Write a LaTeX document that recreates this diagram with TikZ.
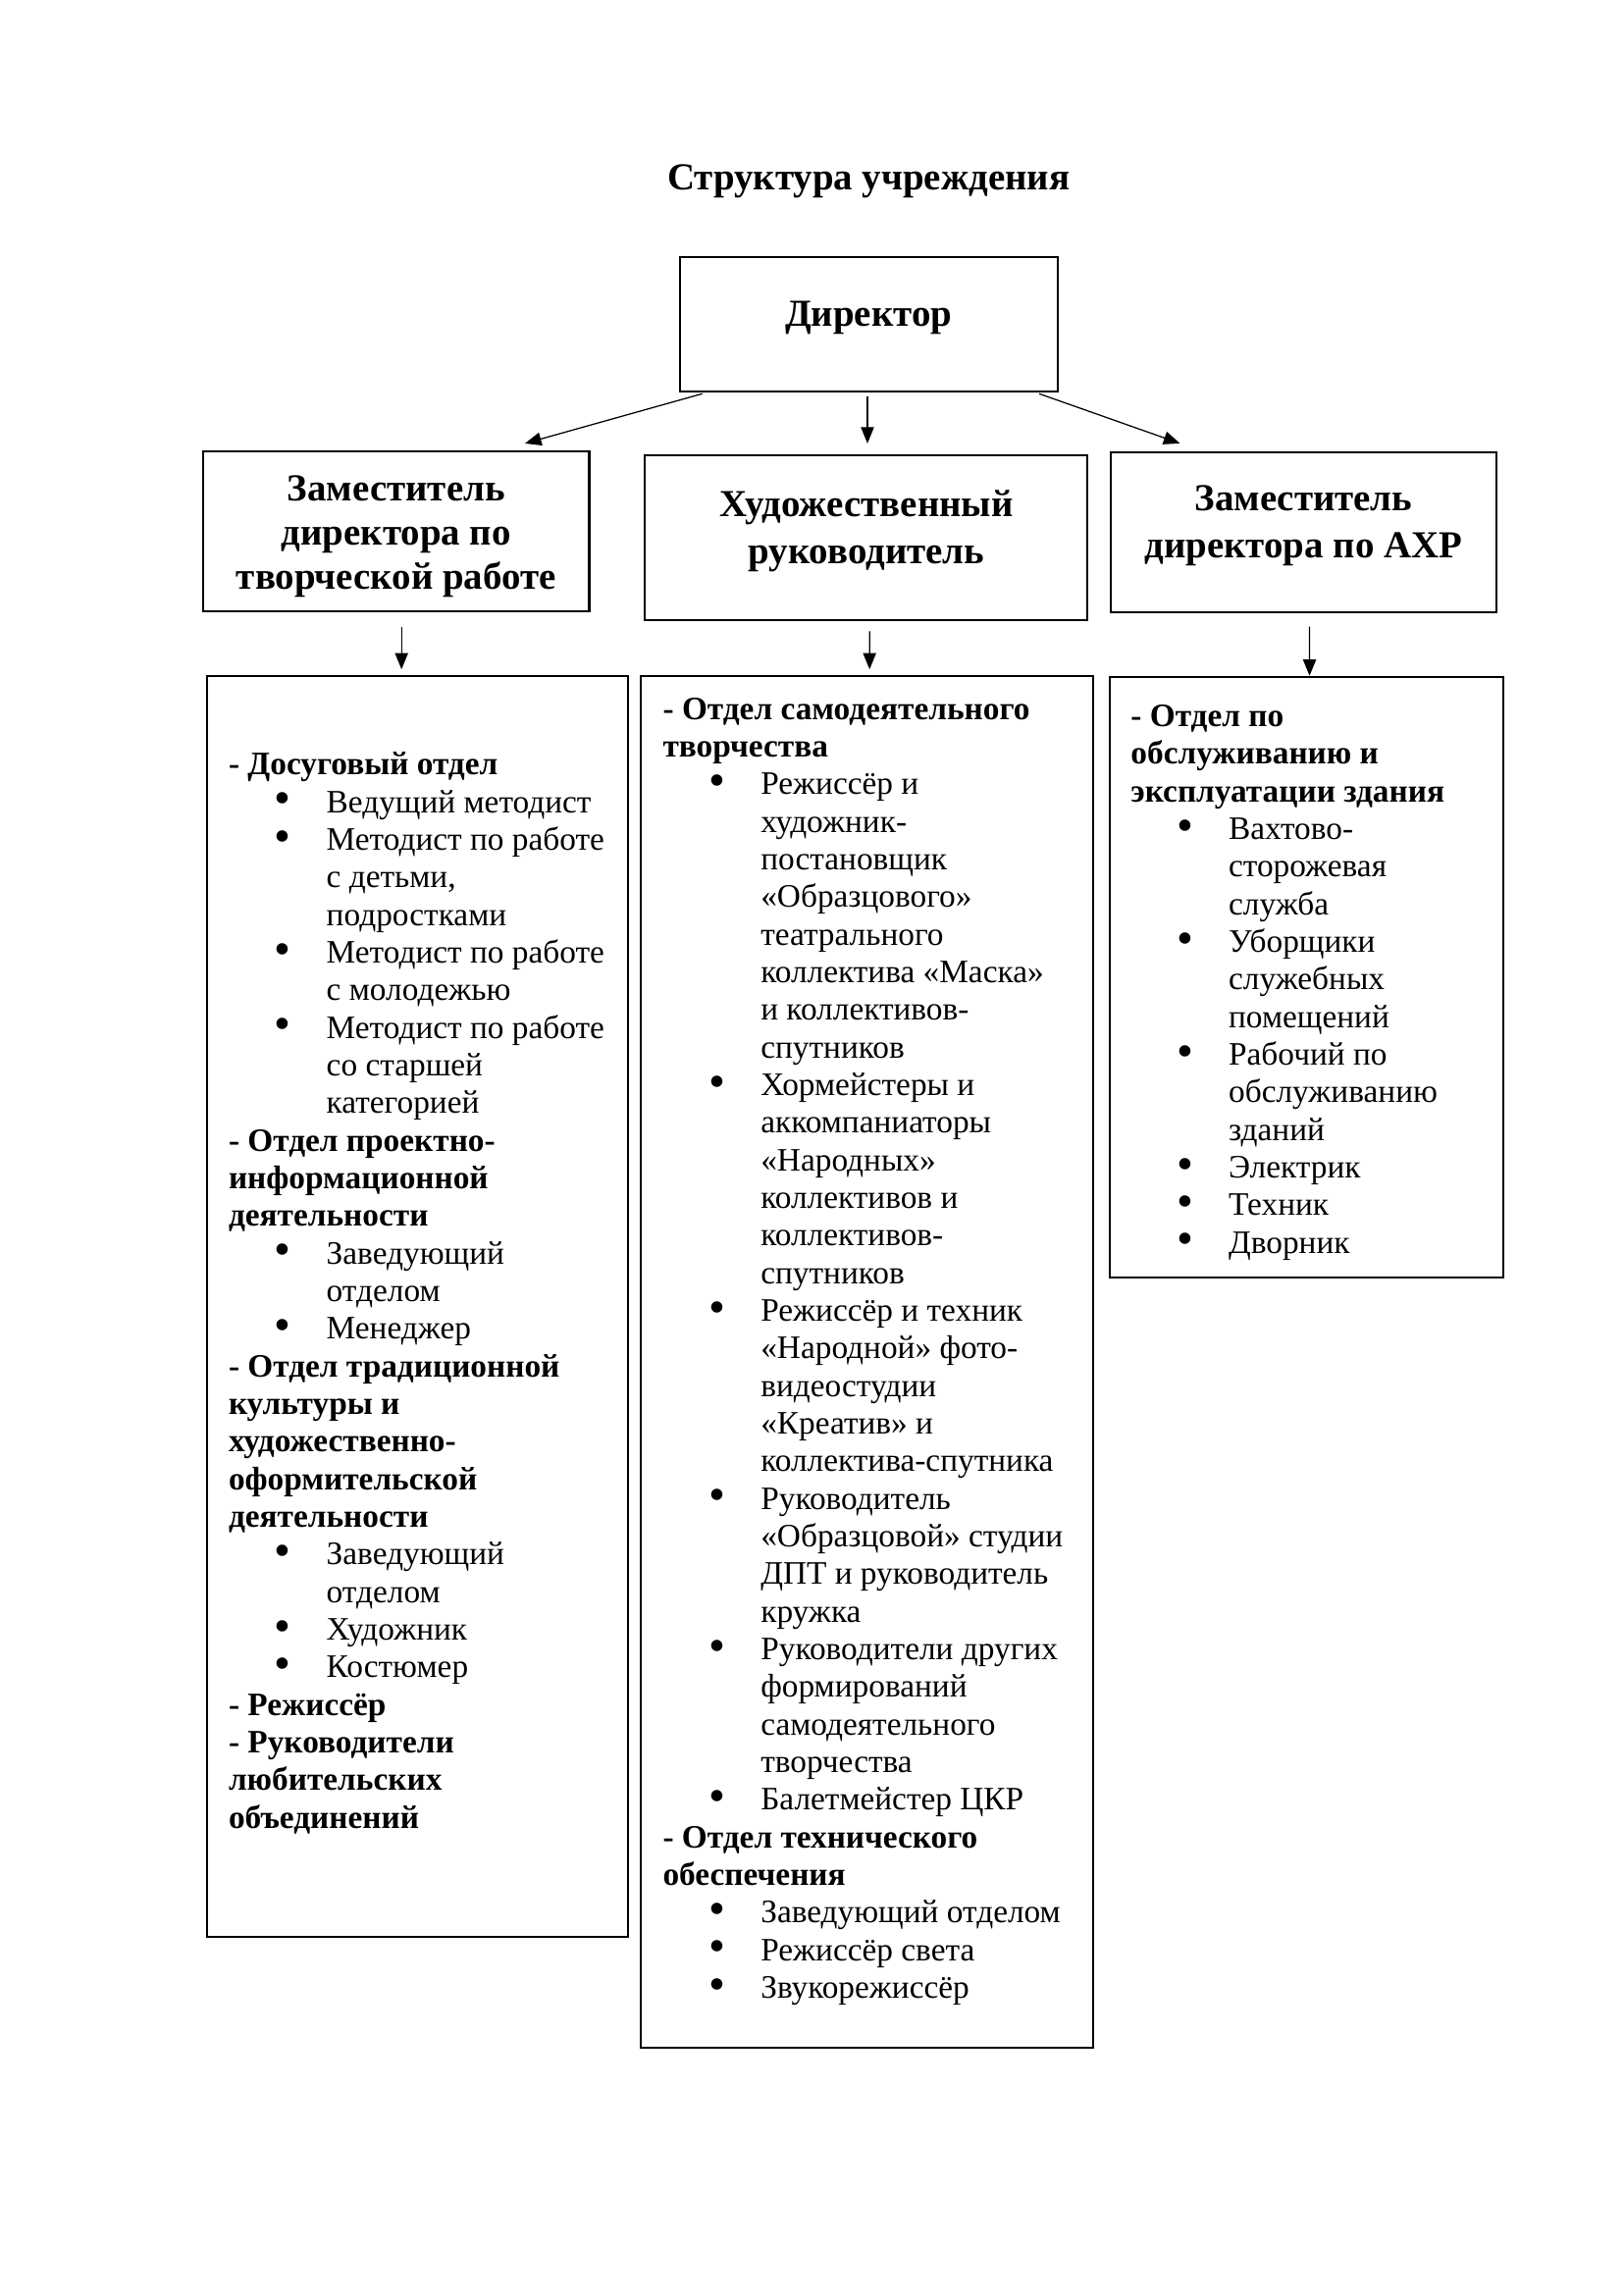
\documentclass[tikz,border=0pt]{standalone}
\usepackage{fontspec}
\setmainfont{Liberation Serif}
\usetikzlibrary{arrows.meta,calc,fit}
\newcommand\myb[1]{\hspace*{16.8pt}\makebox[19.1pt][l]{\raisebox{-0.6pt}{\scalebox{1.45}{\textbullet}}}#1}
\newcommand\myc[1]{\hspace*{35.9pt}#1}
\tikzset{
  frame/.style={draw, line width=0.75pt, inner sep=0pt},
  arr/.style={line width=0.45pt, -{Triangle[length=6pt,width=4.8pt]}},
  htext/.style={font=\fontsize{14}{#1}\selectfont\bfseries, align=center, inner sep=0pt},
  body/.style={anchor=base west, inner sep=0pt}
}
\begin{document}
\begin{tikzpicture}[x=0.5364pt, y=-0.5364pt]
\path[fill=white] (0,0) rectangle (1110,1569.7);
\useasboundingbox (0,0) rectangle (1110,1569.7);

\node[font=\fontsize{14}{16}\selectfont\bfseries, inner sep=0pt] (title) at (594,124) {Структура учреждения};

% top level
\node[frame, fit={(465,176) (723.5,268)}] (dir) {};
\node[htext=16.2] (dirt) at (594,217.7) {Директор};

% second level
\node[frame, fit={(139,308.5) (403,418)}] (dep1) {};
\node[htext=16.2] (dep1t) at (271,367) {Заместитель\\директора по\\творческой работе};
\node[frame, fit={(441,311.5) (743.5,424)}] (dep2) {};
\node[htext=17.2] (dep2t) at (592.5,363.5) {Художественный\\руководитель};
\node[frame, fit={(759.5,309.4) (1023.5,419)}] (dep3) {};
\node[htext=17.2] (dep3t) at (891.5,359.7) {Заместитель\\директора по АХР};

% third level boxes
\node[frame, fit={(141.4,462.6) (429.5,1325)}] (box1) {};
\node[frame, fit={(438.5,462.6) (747.6,1400.6)}] (box2) {};
\node[frame, fit={(758.8,463) (1028,873.6)}] (box3) {};

% connectors
\draw[arr] ($(dir.south west)+(16,0.6)$) -- ($(dep1.north)+(88,-4.5)$);
\draw[arr] ($(dir.south)+(-1,2.5)$) -- ($(dep2.north)+(1,-7.5)$);
\draw[arr] ($(dir.south east)+(-13.5,0.6)$) -- ($(dep3.north)+(-84.5,-5.4)$);
\draw[arr] ($(dep1.south)+(3.6,9.8)$) -- ($(box1.north)+(-10.85,-4.1)$);
\draw[arr] ($(dep2.south)+(2.45,7)$) -- ($(box2.north)+(1.65,-4.1)$);
\draw[arr] ($(dep3.south)+(4.1,8.8)$) -- ($(box3.north)+(2.2,-0.1)$);

% body texts
\node[body] (body1) at (156,530) {\parbox[t]{300pt}{\fontsize{12}{13.8}\selectfont
\textbf{- Досуговый отдел}\\
\myb{Ведущий методист}\\
\myb{Методист по работе}\\
\myc{с детьми,}\\
\myc{подростками}\\
\myb{Методист по работе}\\
\myc{с молодежью}\\
\myb{Методист по работе}\\
\myc{со старшей}\\
\myc{категорией}\\
\textbf{- Отдел проектно-}\\
\textbf{информационной}\\
\textbf{деятельности}\\
\myb{Заведующий}\\
\myc{отделом}\\
\myb{Менеджер}\\
\textbf{- Отдел традиционной}\\
\textbf{культуры и}\\
\textbf{художественно-}\\
\textbf{оформительской}\\
\textbf{деятельности}\\
\myb{Заведующий}\\
\myc{отделом}\\
\myb{Художник}\\
\myb{Костюмер}\\
\textbf{- Режиссёр}\\
\textbf{- Руководители}\\
\textbf{любительских}\\
\textbf{объединений}}};

\node[body] (body2) at (453,492) {\parbox[t]{300pt}{\fontsize{12}{13.8}\selectfont
\textbf{- Отдел самодеятельного}\\
\textbf{творчества}\\
\myb{Режиссёр и}\\
\myc{художник-}\\
\myc{постановщик}\\
\myc{«Образцового»}\\
\myc{театрального}\\
\myc{коллектива «Маска»}\\
\myc{и коллективов-}\\
\myc{спутников}\\
\myb{Хормейстеры и}\\
\myc{аккомпаниаторы}\\
\myc{«Народных»}\\
\myc{коллективов и}\\
\myc{коллективов-}\\
\myc{спутников}\\
\myb{Режиссёр и техник}\\
\myc{«Народной» фото-}\\
\myc{видеостудии}\\
\myc{«Креатив» и}\\
\myc{коллектива-спутника}\\
\myb{Руководитель}\\
\myc{«Образцовой» студии}\\
\myc{ДПТ и руководитель}\\
\myc{кружка}\\
\myb{Руководители других}\\
\myc{формирований}\\
\myc{самодеятельного}\\
\myc{творчества}\\
\myb{Балетмейстер ЦКР}\\
\textbf{- Отдел технического}\\
\textbf{обеспечения}\\
\myb{Заведующий отделом}\\
\myb{Режиссёр света}\\
\myb{Звукорежиссёр}}};

\node[body] (body3) at (773,497) {\parbox[t]{300pt}{\fontsize{12}{13.8}\selectfont
\textbf{- Отдел по}\\
\textbf{обслуживанию и}\\
\textbf{эксплуатации здания}\\
\myb{Вахтово-}\\
\myc{сторожевая}\\
\myc{служба}\\
\myb{Уборщики}\\
\myc{служебных}\\
\myc{помещений}\\
\myb{Рабочий по}\\
\myc{обслуживанию}\\
\myc{зданий}\\
\myb{Электрик}\\
\myb{Техник}\\
\myb{Дворник}}};
\end{tikzpicture}
\end{document}
